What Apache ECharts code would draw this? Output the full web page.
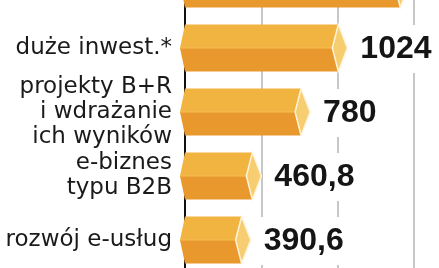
<!DOCTYPE html>
<html>
<head>
<meta charset="utf-8">
<script src="https://cdn.jsdelivr.net/npm/echarts@6/dist/echarts.min.js"></script>
<style>
html,body{margin:0;padding:0;background:#fff;overflow:hidden;width:439px;height:268px;}
#wrap{position:relative;width:439px;height:268px;overflow:hidden;}
#c{position:absolute;left:0;top:-48px;width:439px;height:320px;}
</style>
</head>
<body>
<div id="wrap"><div id="c"></div></div>
<script>
// Categories, top to bottom (the first one is cut off in the picture)
var categories = ['', 'duże inwest.*', 'projekty B+R\ni wdrażanie\nich wyników', 'e-biznes\ntypu B2B', 'rozwój e-usług'];
var values = [1430, 1024, 780, 460.8, 390.6];
var valueLabels = ['', '1024', '780', '460,8', '390,6'];
var xTicks = [0, 500, 1000, 1500];

var chart = echarts.init(document.getElementById('c'), null, {renderer: 'canvas'});

var data = values.map(function (v, i) { return [v, i]; });

function renderItem(params, api) {
  var v = api.value(0);
  var ci = api.value(1);
  var p0 = api.coord([0, ci]);
  var p1 = api.coord([v, ci]);
  var band = api.size([0, 1])[1];
  var h = band * 0.735 / 2;
  var x0 = p0[0], yc = p0[1], xv = p1[0];
  var xc = xv - 3, xi = xv - 9, xt = xv + 6;
  var children = [];
  var lbl = valueLabels[params.dataIndex];
  if (lbl) {
    children.push({
      type: 'text',
      style: {
        x: xt + 3, y: yc + 1,
        text: lbl,
        fill: '#151515',
        font: 'bold 32px "Liberation Sans", Arial, sans-serif',
        verticalAlign: 'middle',
        align: 'left',
        backgroundColor: '#fff',
        padding: [8, 4, 8, 10]
      }
    });
  }
  children.push({
    type: 'polygon',
    shape: {points: [[x0 - 5, yc], [x0, yc - h], [xc, yc - h], [xi, yc]]},
    style: {fill: '#F2B441'}
  });
  children.push({
    type: 'polygon',
    shape: {points: [[x0 - 5, yc], [xi, yc], [xc, yc + h], [x0, yc + h]]},
    style: {fill: '#E8982C'}
  });
  children.push({
    type: 'line',
    shape: {x1: x0 - 4, y1: yc, x2: xi, y2: yc},
    style: {stroke: '#F6BE55', lineWidth: 1}
  });
  children.push({
    type: 'polygon',
    shape: {points: [[xc, yc - h], [xt, yc], [xc, yc + h], [xi, yc]]},
    style: {fill: '#F6CD70', stroke: '#FFF4D8', lineWidth: 1.5}
  });
  return {type: 'group', children: children};
}

chart.setOption({
  animation: false,
  backgroundColor: '#fff',
  grid: {left: 185, right: 25, top: 0, bottom: 0, containLabel: false},
  xAxis: {
    type: 'value',
    min: xTicks[0],
    max: xTicks[xTicks.length - 1],
    interval: xTicks[1] - xTicks[0],
    axisLabel: {show: false},
    axisLine: {show: false},
    axisTick: {show: false},
    splitLine: {show: true, lineStyle: {color: '#b5b5b5', width: 1.5}}
  },
  yAxis: {
    type: 'category',
    inverse: true,
    data: categories,
    axisLine: {show: true, lineStyle: {color: '#111', width: 2}},
    axisTick: {show: false},
    axisLabel: {
      color: '#1a1a1a',
      fontFamily: '"DejaVu Sans", sans-serif',
      fontSize: 23,
      lineHeight: 25,
      margin: 13,
      align: 'right'
    }
  },
  series: [{
    type: 'custom',
    renderItem: renderItem,
    encode: {x: 0, y: 1},
    data: data,
    z: 3
  }]
});
</script>
</body>
</html>
